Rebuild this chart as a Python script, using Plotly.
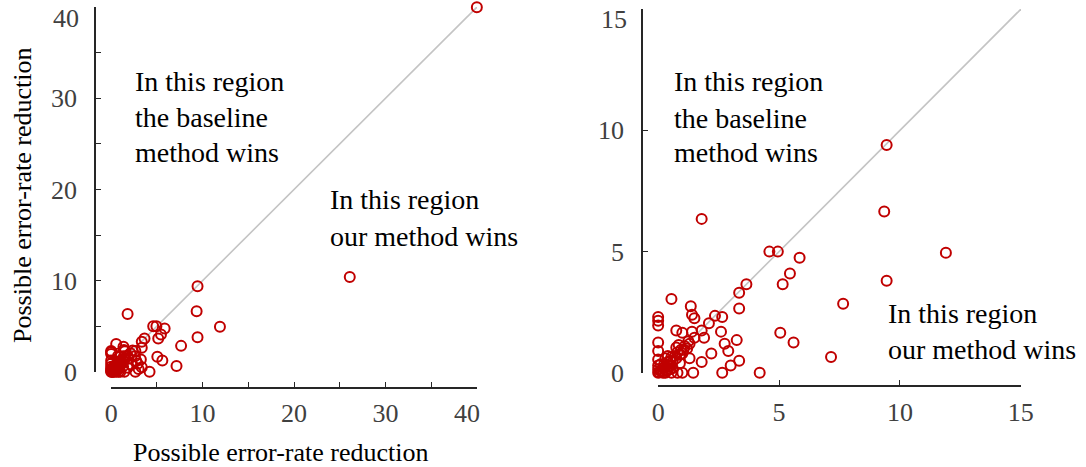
import plotly.graph_objects as go

# data: possible error-rate reduction (baseline on x, ours on y)
x_vals = [40.0, 26.1, 9.45, 9.35, 1.8, 4.6, 4.95, 5.85, 11.9, 5.45, 9.45, 3.65, 5.15, 7.65,
          3.35, 3.35, 0.55, 1.35, 1.4, 1.5, 2.35, 2.65, 2.1, 0.0, 0.0, 0.0, 0.75, 1.0, 1.4,
          1.8, 5.05, 5.6, 0.0, 1.9, 2.75, 3.25, 1.3, 1.8, 3.35, 3.0, 2.65, 4.2, 7.15, 0.55,
          0.8, 1.0, 1.45, 0.0, 0.0, 0.75, 1.05, 0.85,
          0.0, 0.05, 0.1, 0.15, 0.2, 0.25, 0.3, 0.4, 0.45, 0.5, 0.55, 0.6, 0.7, 0.75, 0.8,
          0.9, 0.95, 1.0, 1.1, 1.2, 1.25, 0.3, 0.0, 0.1, 0.35, 0.0, 0.2, 0.6, 0.4, 1.3,
          1.5, 0.9, 0.3, 0.5, 2.2, 2.6, 2.9]
y_vals = [40.0, 10.4, 9.4, 6.65, 6.35, 5.0, 5.0, 4.75, 4.95, 4.1, 3.8, 3.65, 3.65, 2.85,
          3.3, 2.65, 3.05, 2.75, 2.4, 2.25, 2.35, 2.3, 2.05, 2.3, 2.15, 1.95, 1.75, 1.65, 1.7,
          1.75, 1.65, 1.25, 1.25, 1.45, 1.2, 1.35, 0.6, 0.45, 0.5, 0.3, 0.0, 0.0, 0.65, 0.0,
          0.0, 0.0, 0.0, 0.9, 0.55, 1.05, 0.95, 1.15,
          0.0, 0.02, 0.1, 0.05, 0.2, 0.35, 0.25, 0.45, 0.3, 0.5, 0.65, 0.45, 0.7, 0.6, 0.85,
          0.75, 0.95, 0.8, 1.1, 1.0, 1.3, 0.0, 0.3, 0.35, 0.1, 0.15, 0.0, 0.2, 0.7, 1.2,
          1.45, 0.4, 0.6, 0.15, 0.8, 1.7, 0.9]

left_max = 40
right_max = 15
left_tickvals = [0, 5, 10, 15, 20, 25, 30, 35, 40]
left_ticktext = ["0", "", "10", "", "20", "", "30", "", "40"]
right_tickvals = [0, 5, 10, 15]
right_ticktext = ["0", "5", "10", "15"]

FONT = "Liberation Serif, Times New Roman, serif"
RED = "#c00000"
AX = "#262626"
TICKC = "#404040"
W, H = 1086, 467
TICKSIZE = 26

fig = go.Figure()

marker = dict(symbol="circle-open", size=10, color=RED, line=dict(width=2, color=RED))

# left panel: diagonal then points
fig.add_trace(go.Scatter(x=[0, left_max], y=[0, left_max], mode="lines",
                         line=dict(color="#c4c4c4", width=1.6), xaxis="x", yaxis="y",
                         hoverinfo="skip", cliponaxis=False))
fig.add_trace(go.Scatter(x=x_vals, y=y_vals, mode="markers", marker=marker,
                         xaxis="x", yaxis="y", cliponaxis=False))

# right panel: zoomed view of the same data
rx = [a for a, b in zip(x_vals, y_vals) if a <= right_max and b <= right_max]
ry = [b for a, b in zip(x_vals, y_vals) if a <= right_max and b <= right_max]
fig.add_trace(go.Scatter(x=[0, right_max], y=[0, right_max], mode="lines",
                         line=dict(color="#c4c4c4", width=1.6), xaxis="x2", yaxis="y2",
                         hoverinfo="skip", cliponaxis=False))
fig.add_trace(go.Scatter(x=rx, y=ry, mode="markers", marker=marker,
                         xaxis="x2", yaxis="y2", cliponaxis=False))


def axis(domain, rng, position, tickvals, ticktext, standoff=8):
    pad = (rng[1] - rng[0]) * 0.0004
    return dict(domain=domain, range=[rng[0] - pad, rng[1] + pad], anchor="free",
                position=position, automargin=False,
                showline=True, linecolor=AX, linewidth=1.5, mirror=False,
                ticks="inside", ticklen=5, tickwidth=1.3, tickcolor=AX,
                tickmode="array", tickvals=tickvals, ticktext=ticktext,
                showgrid=False, zeroline=False,
                tickfont=dict(family=FONT, size=TICKSIZE, color=TICKC),
                ticklabelstandoff=standoff, fixedrange=True)


fig.update_layout(
    width=W, height=H,
    margin=dict(l=0, r=0, t=0, b=0, autoexpand=False),
    paper_bgcolor="white", plot_bgcolor="white",
    showlegend=False,
    xaxis=axis([111 / W, 477 / W], [0, left_max], 1 - 388 / H, left_tickvals,
               left_ticktext[:-1] + [""], 2),
    yaxis=axis([1 - 372 / H, 1 - 7 / H], [0, left_max], 95 / W, left_tickvals,
               left_ticktext[:-1] + [""], 12),
    xaxis2=axis([658 / W, 1021 / W], [0, right_max], 1 - 386 / H, right_tickvals,
                right_ticktext, 3),
    yaxis2=axis([1 - 373 / H, 1 - 9 / H], [0, right_max], 642 / W, right_tickvals,
                right_ticktext[:-1] + [""], 12),
)

tickfont = dict(family=FONT, size=TICKSIZE, color=TICKC)
# end tick labels, nudged inward as in the reference
fig.add_annotation(x=81 / W, y=1 - 19 / H, xref="paper", yref="paper",
                   text=left_ticktext[-1], showarrow=False, xanchor="right",
                   yanchor="middle", font=tickfont)
fig.add_annotation(x=629 / W, y=1 - 20 / H, xref="paper", yref="paper",
                   text=right_ticktext[-1], showarrow=False, xanchor="right",
                   yanchor="middle", font=tickfont)
fig.add_annotation(x=467 / W, y=1 - 413 / H, xref="paper", yref="paper",
                   text=left_ticktext[-1], showarrow=False, xanchor="center",
                   yanchor="middle", font=tickfont)

txt = dict(family=FONT, size=28, color="black")


def lines(xref, yref, x, ys, texts):
    for yy, t in zip(ys, texts):
        fig.add_annotation(x=x, y=yy, xref=xref, yref=yref, text=t, showarrow=False,
                           xanchor="left", yanchor="middle", font=txt)


lines("x", "y", 2.4, [31.8, 27.85, 24.1], ["In this region", "the baseline", "method wins"])
lines("x", "y", 23.7, [18.85, 14.8], ["In this region", "our method wins"])
lines("x2", "y2", 0.58, [12.0, 10.5, 9.1], ["In this region", "the baseline", "method wins"])
lines("x2", "y2", 9.42, [2.43, 0.95], ["In this region", "our method wins"])

# axis titles
ttl = dict(family=FONT, size=26, color="black")
fig.add_annotation(x=280 / W, y=1 - 452 / H, xref="paper", yref="paper",
                   text="Possible error-rate reduction", showarrow=False,
                   xanchor="center", yanchor="middle", font=ttl)
fig.add_annotation(x=22 / W, y=1 - 196 / H, xref="paper", yref="paper",
                   text="Possible error-rate reduction", showarrow=False, textangle=-90,
                   xanchor="center", yanchor="middle", font=ttl)

fig.write_html("out.html", config={"displayModeBar": False},
               post_script="document.body.style.margin='0px';"
                           "document.body.style.overflow='hidden';")
